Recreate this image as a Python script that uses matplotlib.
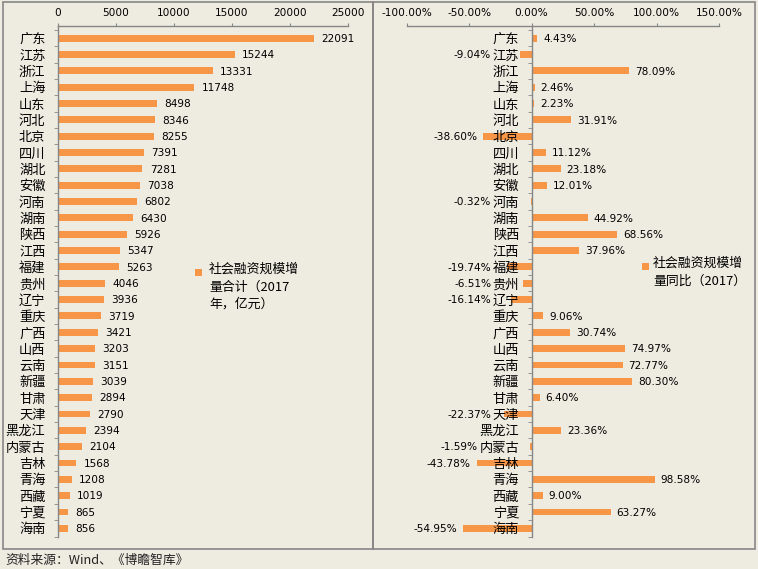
import matplotlib
matplotlib.use('Agg')
import matplotlib.pyplot as plt
import numpy as np
from matplotlib.patches import Rectangle

provinces = ['广东', '江苏', '浙江', '上海', '山东', '河北', '北京', '四川', '湖北', '安徽',
             '河南', '湖南', '陕西', '江西', '福建', '贵州', '辽宁', '重庆', '广西', '山西',
             '云南', '新疆', '甘肃', '天津', '黑龙江', '内蒙古', '吉林', '青海', '西藏', '宁夏', '海南']
amount = [22091, 15244, 13331, 11748, 8498, 8346, 8255, 7391, 7281, 7038,
          6802, 6430, 5926, 5347, 5263, 4046, 3936, 3719, 3421, 3203,
          3151, 3039, 2894, 2790, 2394, 2104, 1568, 1208, 1019, 865, 856]
growth = [4.43, -9.04, 78.09, 2.46, 2.23, 31.91, -38.60, 11.12, 23.18, 12.01,
          -0.32, 44.92, 68.56, 37.96, -19.74, -6.51, -16.14, 9.06, 30.74, 74.97,
          72.77, 80.30, 6.40, -22.37, 23.36, -1.59, -43.78, 98.58, 9.00, 63.27, -54.95]
amount_ticks = [0, 5000, 10000, 15000, 20000, 25000]
growth_ticks = [-100, -50, 0, 50, 100, 150]
legend_left = '社会融资规模增\n量合计（2017\n年，亿元）'
legend_right = '社会融资规模增\n量同比（2017）'
source = '资料来源：Wind、《博瞻智库》'

BG = '#EEECE1'
BAR = '#F79646'
BORDER = '#868686'
CJK = ['Noto Sans CJK SC', 'DejaVu Sans']
NUM = ['DejaVu Sans', 'Noto Sans CJK SC']

W, H = 758, 569
fig = plt.figure(figsize=(W / 100, H / 100), dpi=100, facecolor=BG)


def fx(px):
    return px / W


def fy(py):
    return 1 - py / H


# panel frames
for x0, x1 in [(3, 373), (373, 755)]:
    fig.add_artist(Rectangle((fx(x0), fy(549)), (x1 - x0) / W, (549 - 2) / H,
                             transform=fig.transFigure, fill=False, ec=BORDER, lw=1.2))

n = len(provinces)
ypos = np.arange(n)
top_px, bot_px = 26, 536.5
ax_rect_h = (bot_px - top_px) / H
ytop = -0.5 - (30.0 - 26) / 16.34


def style_axis(ax, xticks, xlabels, spine_zero=False):
    ax.set_facecolor('none')
    ax.set_axisbelow(False)
    for s in ['right', 'bottom']:
        ax.spines[s].set_visible(False)
    for s in ['top', 'left']:
        ax.spines[s].set_color(BORDER)
        ax.spines[s].set_linewidth(1.0)
    if spine_zero:
        ax.spines['left'].set_position(('data', 0))
    ax.xaxis.tick_top()
    ax.set_xticks(xticks)
    ax.set_xticklabels(xlabels, fontfamily=NUM, fontsize=7.6)
    ax.tick_params(axis='x', which='major', direction='out', length=2.5, color=BORDER, pad=3.5)
    ax.set_yticks(ypos)
    ax.set_yticklabels(provinces, fontfamily=CJK, fontsize=9.5)
    ax.set_yticks(np.arange(-0.5, n, 1), minor=True)
    ax.tick_params(axis='y', which='major', length=0, pad=9)
    ax.tick_params(axis='y', which='minor', length=3, color=BORDER, direction='out')
    ax.set_ylim(n - 0.5, ytop)


# left panel
ax1 = fig.add_axes([fx(58), fy(bot_px), (348 - 58) / W, ax_rect_h])
ax1.barh(ypos, amount, height=0.42, color=BAR, zorder=2)
ax1.set_xlim(0, 25000)
style_axis(ax1, amount_ticks, [str(t) for t in amount_ticks])
for i, v in enumerate(amount):
    ax1.annotate(str(v), xy=(v, i), xytext=(5.2, -0.5), textcoords='offset points',
                 ha='left', va='center', fontsize=7.6, fontfamily=NUM)

# right panel
ax2 = fig.add_axes([fx(406.7), fy(bot_px), (719 - 406.7) / W, ax_rect_h])
ax2.barh(ypos, growth, height=0.42, color=BAR, zorder=2)
ax2.set_xlim(-100, 150)
style_axis(ax2, growth_ticks, ['%.2f%%' % t for t in growth_ticks], spine_zero=True)
scale = (719 - 406.7) / 250.0  # px per unit
pt = 72.0 / 100.0
for i, v in enumerate(growth):
    txt = '%.2f%%' % v
    if v >= 0:
        ax2.annotate(txt, xy=(v, i), xytext=(6 * pt, -0.5), textcoords='offset points',
                     ha='left', va='center', fontsize=7.6, fontfamily=NUM)
    else:
        lab_w = 13.2 * len(provinces[i])
        r = min(v * scale - 6, -(13 + lab_w) - 1)
        ax2.annotate(txt, xy=(0, i), xytext=(r * pt, -0.5), textcoords='offset points',
                     ha='right', va='center', fontsize=7.6, fontfamily=NUM)

# legends
for (mx, my, tx, txt) in [(198, 272, 209, legend_left), (645, 266, 653, legend_right)]:
    fig.add_artist(Rectangle((fx(mx - 3.5), fy(my + 3.5)), 7 / W, 7 / H,
                             transform=fig.transFigure, color=BAR, lw=0))
    fig.text(fx(tx), fy(my - 9), txt, fontfamily=CJK, fontsize=9.3, va='top', ha='left',
             linespacing=1.45)

fig.text(fx(5), fy(560), source, fontfamily=CJK, fontsize=9.2, va='center', ha='left',
         color='#222222')

fig.savefig('out.png', dpi=100, facecolor=BG)
